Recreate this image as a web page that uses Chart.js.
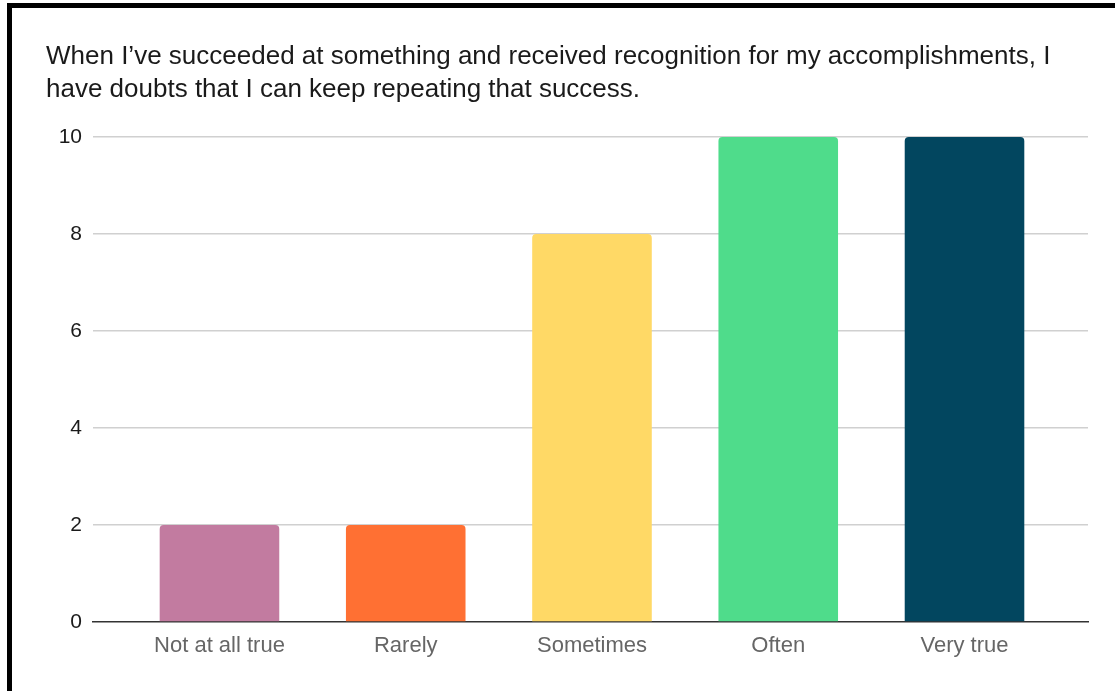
<!DOCTYPE html>
<html>
<head>
<meta charset="utf-8">
<script src="https://cdn.jsdelivr.net/npm/chart.js@4"></script>
<style>
  html, body { margin: 0; padding: 0; background: #fff; }
  #wrap { position: relative; width: 1115px; height: 691px; overflow: hidden; }
  #chart { position: absolute; left: 0; top: 0; }
  #frame {
    position: absolute; left: 7px; top: 3px; width: 1200px; height: 800px;
    border-top: 5px solid #000; border-left: 5px solid #000;
    pointer-events: none;
  }
</style>
</head>
<body>
<div id="wrap">
  <canvas id="chart" width="1115" height="691"></canvas>
  <div id="frame"></div>
</div>
<script>
// Survey answers and how many people picked each
const categories = ["Not at all true", "Rarely", "Sometimes", "Often", "Very true"];
const counts = [2, 2, 8, 10, 10];
const yTicks = [0, 2, 4, 6, 8, 10];
const barColors = ["#c27ba0", "#ff7033", "#ffd966", "#4fdc8b", "#02465f"];

const titleLines = [
  "When I\u2019ve succeeded at something and received recognition for my accomplishments, I",
  "have doubts that I can keep repeating that success.",
];

const fontFamily = "'Liberation Sans', Arial, sans-serif";

new Chart(document.getElementById("chart"), {
  type: "bar",
  data: {
    datasets: [
      {
        data: counts.map((v, i) => ({ x: i, y: v })),
        backgroundColor: barColors,
        borderRadius: 4,
        barPercentage: 0.642,
        categoryPercentage: 1,
      },
    ],
  },
  options: {
    responsive: false,
    animation: false,
    layout: { padding: { left: 46, right: 27, top: 0, bottom: 0 } },
    plugins: {
      legend: { display: false },
      tooltip: { enabled: false },
      title: {
        display: true,
        text: titleLines,
        align: "start",
        color: "#1a1a1a",
        font: { family: fontFamily, size: 26, weight: "normal", lineHeight: 33 / 26 },
        padding: { top: 40, bottom: 31 },
      },
    },
    scales: {
      x: {
        type: "linear",
        offset: false,
        min: -0.679,
        max: 4.663,
        afterBuildTicks: (scale) => {
          scale.ticks = categories.map((_, i) => ({ value: i }));
        },
        afterFit: (scale) => {
          scale.height = 69;
        },
        grid: { display: false, drawTicks: false },
        border: { display: true, color: "#333", width: 1.5 },
        ticks: {
          autoSkip: false,
          maxRotation: 0,
          padding: 11,
          color: "#666",
          font: { family: fontFamily, size: 22 },
          callback: (value) => categories[value] ?? "",
        },
      },
      y: {
        min: 0,
        max: 10,
        afterBuildTicks: (scale) => {
          scale.ticks = yTicks.map((v) => ({ value: v }));
        },
        afterFit: (scale) => {
          scale.width = 47;
        },
        border: { display: false },
        grid: {
          drawTicks: false,
          color: (ctx) => (ctx.tick && ctx.tick.value === 0 ? "rgba(0,0,0,0)" : "#d0d0d0"),
          lineWidth: 1.5,
        },
        ticks: {
          padding: 11,
          color: "#1a1a1a",
          font: { family: fontFamily, size: 21 },
        },
      },
    },
  },
});
</script>
</body>
</html>
